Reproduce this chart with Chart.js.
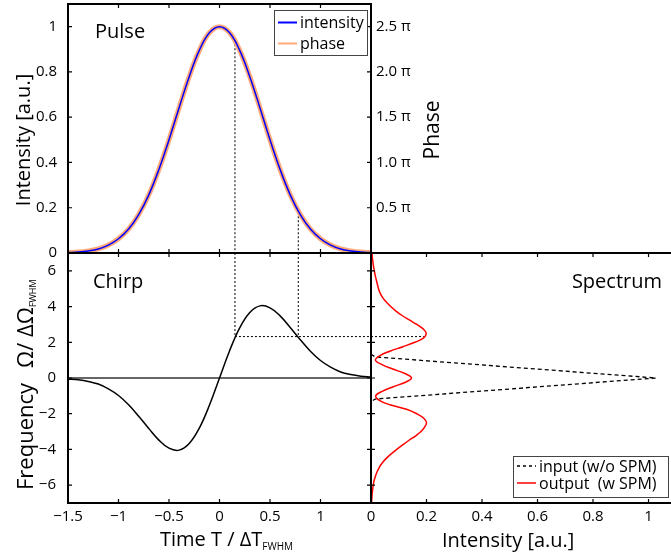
<!DOCTYPE html>
<html>
<head>
<meta charset="utf-8">
<title>SPM pulse, chirp and spectrum</title>
<script src="https://cdn.jsdelivr.net/npm/chart.js@4.4.0/dist/chart.umd.min.js"></script>
<style>
html, body { margin: 0; padding: 0; background: #fff; }
#wrap { position: relative; width: 671px; height: 556px; overflow: hidden; }
#wrap canvas { position: absolute; left: 0; top: 0; }
</style>
</head>
<body>
<div id="wrap">
  <canvas id="pulse" width="671" height="556"></canvas>
  <canvas id="chirp" width="671" height="556"></canvas>
  <canvas id="spectrum" width="671" height="556"></canvas>
</div>
<script>
// time samples, T / dT_FWHM
const timeT = [-1.5, -1.4, -1.3, -1.2, -1.1, -1.0, -0.9, -0.8, -0.7, -0.6, -0.5, -0.4, -0.3, -0.2, -0.1, 0,
               0.1, 0.2, 0.3, 0.4, 0.5, 0.6, 0.7, 0.8, 0.9, 1.0, 1.1, 1.2, 1.3, 1.4, 1.5];
const intensity = [0.002, 0.004, 0.009, 0.018, 0.035, 0.063, 0.106, 0.170, 0.257, 0.369, 0.500, 0.642, 0.779, 0.895, 0.973, 1.000,
                   0.973, 0.895, 0.779, 0.642, 0.500, 0.369, 0.257, 0.170, 0.106, 0.063, 0.035, 0.018, 0.009, 0.004, 0.002];
// phase in units of pi (right axis)
const phasePi = [0.005, 0.010, 0.023, 0.045, 0.088, 0.158, 0.265, 0.425, 0.643, 0.923, 1.250, 1.605, 1.948, 2.238, 2.433, 2.500,
                 2.433, 2.238, 1.948, 1.605, 1.250, 0.923, 0.643, 0.425, 0.265, 0.158, 0.088, 0.045, 0.023, 0.010, 0.005];
// instantaneous frequency, Omega / dOmega_FWHM
const chirp = [-0.05, -0.10, -0.19, -0.34, -0.61, -0.98, -1.50, -2.14, -2.83, -3.48, -3.93, -4.04, -3.67, -2.81, -1.53, 0,
               1.53, 2.81, 3.67, 4.04, 3.93, 3.48, 2.83, 2.14, 1.50, 0.98, 0.61, 0.34, 0.19, 0.10, 0.05];

// spectra (frequency on the vertical axis)
const omegaIn = [1.33, 1.18, 0, -1.18, -1.33];
const specIn = [0, 0.015, 1.027, 0.015, 0];
const omegaOut = [7, 6.75, 6.5, 6.25, 6, 5.75, 5.5, 5.25, 5, 4.75, 4.5, 4.25, 4, 3.75, 3.5, 3.25, 3, 2.75, 2.5, 2.25,
                  2, 1.75, 1.5, 1.25, 1, 0.75, 0.5, 0.25, 0, -0.25, -0.5, -0.75, -1, -1.25, -1.5, -1.75, -2, -2.25, -2.5,
                  -2.75, -3, -3.25, -3.5, -3.75, -4, -4.25, -4.5, -4.75, -5, -5.25, -5.5, -5.75, -6, -6.25, -6.5, -6.75, -7];
const specOut = [0.004, 0.005, 0.007, 0.009, 0.012, 0.015, 0.019, 0.023, 0.027, 0.033, 0.042, 0.055, 0.071, 0.090, 0.112, 0.138, 0.165, 0.188, 0.199, 0.190,
                 0.158, 0.115, 0.068, 0.032, 0.016, 0.040, 0.078, 0.122, 0.146, 0.122, 0.078, 0.040, 0.017, 0.030, 0.068, 0.128, 0.165, 0.190, 0.200,
                 0.193, 0.180, 0.160, 0.136, 0.114, 0.093, 0.073, 0.055, 0.041, 0.030, 0.022, 0.016, 0.011, 0.008, 0.006, 0.004, 0.003, 0.002];

// dotted guide lines
const markT = [0.153, 0.78];
const markI = [0.94, 0.18];
const markOmega = 2.32;
const markSpec = 0.19;

// ticks
const timeTicks = [-1.5, -1, -0.5, 0, 0.5, 1];
const intensityTicks = [0, 0.2, 0.4, 0.6, 0.8, 1];
const phaseTicks = [0.5, 1, 1.5, 2, 2.5];
const freqTicks = [-6, -4, -2, 0, 2, 4, 6];
const specTicks = [0, 0.2, 0.4, 0.6, 0.8, 1];

const FONT = "'Open Sans', sans-serif";
Chart.defaults.font.family = FONT;
Chart.defaults.font.size = 15;
Chart.defaults.color = '#000';

function pts(xs, ys) {
    return xs.map((x, i) => ({ x: x, y: ys[i] }));
}
function fmtNum(v) {
    return v < 0 ? '\u2212' + Math.abs(v) : String(v);
}

// linear axis with fixed ticks and a fixed size
function axis(min, max, ticks, o) {
    return {
        type: 'linear',
        min: min,
        max: max,
        display: o.display !== false,
        position: o.position,
        grid: { display: false, drawTicks: false },
        border: { display: false },
        ticks: { autoSkip: false, maxRotation: 0, padding: o.pad || 0, callback: o.fmt || fmtNum },
        afterBuildTicks: s => { s.ticks = ticks.map(v => ({ value: v })); },
        afterFit: s => {
            if (o.width != null) s.width = o.width;
            if (o.height != null) s.height = o.height;
            s.paddingTop = s.paddingBottom = s.paddingLeft = s.paddingRight = 0;
        }
    };
}

function baseOptions(padding, scales) {
    return {
        responsive: false,
        animation: false,
        devicePixelRatio: 1,
        layout: { padding: padding },
        plugins: { legend: { display: false }, tooltip: { enabled: false } },
        elements: { point: { radius: 0 } },
        scales: scales
    };
}

function dotted(data) {
    return { data: data, borderColor: '#000', borderWidth: 1, borderDash: [2, 2], tension: 0 };
}

// box with inward ticks
function framePlugin(id, sides) {
    return {
        id: id,
        afterDatasetsDraw(chart) {
            const ctx = chart.ctx, a = chart.chartArea;
            ctx.save();
            ctx.strokeStyle = '#000';
            sides.forEach(sd => {
                const sc = chart.scales[sd.scale];
                ctx.lineWidth = 2;
                ctx.beginPath();
                if (sd.side === 'left') { ctx.moveTo(a.left, a.top - 1); ctx.lineTo(a.left, a.bottom + 1); }
                if (sd.side === 'right') { ctx.moveTo(a.right, a.top - 1); ctx.lineTo(a.right, a.bottom + 1); }
                if (sd.side === 'top') { ctx.moveTo(a.left - 1, a.top); ctx.lineTo(a.right + 1, a.top); }
                if (sd.side === 'bottom') { ctx.moveTo(a.left - 1, a.bottom); ctx.lineTo(a.right + 1, a.bottom); }
                ctx.stroke();
                ctx.lineWidth = 1.2;
                ctx.beginPath();
                sd.ticks.forEach(v => {
                    const p = sc.getPixelForValue(v);
                    if (sd.side === 'left') { ctx.moveTo(a.left, p); ctx.lineTo(a.left + 4, p); }
                    if (sd.side === 'right') { ctx.moveTo(a.right, p); ctx.lineTo(a.right - 4, p); }
                    if (sd.side === 'top') { ctx.moveTo(p, a.top); ctx.lineTo(p, a.top + 4); }
                    if (sd.side === 'bottom') { ctx.moveTo(p, a.bottom); ctx.lineTo(p, a.bottom - 4); }
                });
                ctx.stroke();
            });
            ctx.restore();
        }
    };
}

// free text (panel names, axis titles with subscripts)
function textPlugin(id, items) {
    return {
        id: id,
        afterDraw(chart) {
            const ctx = chart.ctx;
            items.forEach(it => {
                ctx.save();
                ctx.translate(it.x, it.y);
                if (it.rot) ctx.rotate(-Math.PI / 2);
                ctx.fillStyle = '#000';
                ctx.textBaseline = 'alphabetic';
                ctx.textAlign = 'left';
                const widths = it.parts.map(p => {
                    ctx.font = p.size + 'px ' + FONT;
                    return ctx.measureText(p.t).width;
                });
                const total = widths.reduce((s, w) => s + w, 0);
                let x = 0;
                if (it.align === 'center') x = -total / 2;
                if (it.align === 'right') x = -total;
                it.parts.forEach((p, i) => {
                    ctx.font = p.size + 'px ' + FONT;
                    ctx.fillText(p.t, x, p.dy || 0);
                    x += widths[i];
                });
                ctx.restore();
            });
        }
    };
}

// boxed legend
function legendPlugin(id, box, entries) {
    return {
        id: id,
        afterDraw(chart) {
            const ctx = chart.ctx;
            ctx.save();
            ctx.fillStyle = '#fff';
            ctx.fillRect(box.x, box.y, box.w, box.h);
            ctx.strokeStyle = '#444';
            ctx.lineWidth = 1;
            ctx.strokeRect(box.x + 0.5, box.y + 0.5, box.w, box.h);
            entries.forEach((e, i) => {
                const y = box.y + box.first + i * box.step;
                ctx.strokeStyle = e.color;
                ctx.lineWidth = e.width;
                ctx.setLineDash(e.dash || []);
                ctx.beginPath();
                ctx.moveTo(box.x + 4, y);
                ctx.lineTo(box.x + 23, y);
                ctx.stroke();
                ctx.setLineDash([]);
                ctx.fillStyle = '#000';
                ctx.font = '16px ' + FONT;
                ctx.textBaseline = 'middle';
                ctx.fillText(e.label, box.x + 26, y + 1);
            });
            ctx.restore();
        }
    };
}

// ---- Pulse (top left) ----
new Chart(document.getElementById('pulse'), {
    type: 'line',
    data: {
        datasets: [
            { label: 'intensity', data: pts(timeT, intensity), yAxisID: 'y', borderColor: '#0000ff', borderWidth: 1.5, tension: 0.4 },
            { label: 'phase', data: pts(timeT, phasePi), yAxisID: 'y1', borderColor: '#ffaa78', borderWidth: 5, tension: 0.4 },
            dotted([{ x: markT[0], y: markI[0] }, { x: markT[0], y: 0 }]),
            dotted([{ x: markT[1], y: markI[1] }, { x: markT[1], y: 0 }])
        ]
    },
    options: baseOptions({ left: 0, top: 4, right: 220, bottom: 303 }, {
        x: axis(-1.5, 1.5, timeTicks, { display: false }),
        y: axis(0, 1.1, intensityTicks, { position: 'left', width: 68, pad: 11 }),
        y1: axis(0, 2.75, phaseTicks, { position: 'right', width: 80, pad: 5, fmt: v => v.toFixed(1) + ' \u03c0' })
    }),
    plugins: [
        framePlugin('pulseFrame', [
            { side: 'left', scale: 'y', ticks: intensityTicks },
            { side: 'right', scale: 'y1', ticks: phaseTicks },
            { side: 'top', scale: 'x', ticks: timeTicks },
            { side: 'bottom', scale: 'x', ticks: timeTicks }
        ]),
        textPlugin('pulseText', [
            { x: 95, y: 38, parts: [{ t: 'Pulse', size: 20 }] },
            { x: 30, y: 140, rot: true, align: 'center', parts: [{ t: 'Intensity [a.u.]', size: 20 }] },
            { x: 439, y: 130, rot: true, align: 'center', parts: [{ t: 'Phase', size: 21 }] }
        ]),
        legendPlugin('pulseLegend', { x: 274, y: 10, w: 93, h: 45, first: 12.5, step: 21 }, [
            { label: 'intensity', color: '#0000ff', width: 2 },
            { label: 'phase', color: '#ffaa78', width: 2 }
        ])
    ]
});

// ---- Chirp (bottom left) ----
new Chart(document.getElementById('chirp'), {
    type: 'line',
    data: {
        datasets: [
            { data: pts(timeT, chirp), borderColor: '#000', borderWidth: 1.5, tension: 0.4 },
            { data: [{ x: timeT[0], y: 0 }, { x: timeT[timeT.length - 1], y: 0 }], borderColor: '#333', borderWidth: 1.5 },
            dotted([{ x: markT[0], y: 7 }, { x: markT[0], y: markOmega }]),
            dotted([{ x: markT[1], y: 7 }, { x: markT[1], y: markOmega }]),
            dotted([{ x: markT[0], y: markOmega }, { x: 1.5, y: markOmega }])
        ]
    },
    options: baseOptions({ left: 0, top: 253, right: 300, bottom: 0 }, {
        x: axis(-1.5, 1.5, timeTicks, { position: 'bottom', height: 53, pad: 5 }),
        y: axis(-7, 7, freqTicks, { position: 'left', width: 68, pad: 12 })
    }),
    plugins: [
        framePlugin('chirpFrame', [
            { side: 'left', scale: 'y', ticks: freqTicks },
            { side: 'right', scale: 'y', ticks: freqTicks },
            { side: 'top', scale: 'x', ticks: timeTicks },
            { side: 'bottom', scale: 'x', ticks: timeTicks }
        ]),
        textPlugin('chirpText', [
            { x: 93, y: 288, parts: [{ t: 'Chirp', size: 20 }] },
            { x: 33, y: 490, rot: true, parts: [{ t: 'Frequency', size: 22 }] },
            { x: 33, y: 368, rot: true, parts: [{ t: '\u03a9/ \u0394\u03a9', size: 22 }, { t: 'FWHM', size: 9, dy: 3 }] },
            { x: 160, y: 546, parts: [{ t: 'Time T / \u0394T', size: 20 }, { t: 'FWHM', size: 10, dy: 4 }] }
        ])
    ]
});

// ---- Spectrum (bottom right) ----
new Chart(document.getElementById('spectrum'), {
    type: 'line',
    data: {
        datasets: [
            { data: pts(specOut, omegaOut), borderColor: '#ff0000', borderWidth: 1.5, tension: 0.4 },
            { data: pts(specIn, omegaIn), borderColor: '#000', borderWidth: 1.3, borderDash: [4, 3], tension: 0 },
            dotted([{ x: 0, y: markOmega }, { x: markSpec, y: markOmega }])
        ]
    },
    options: baseOptions({ left: 371, top: 253, right: 0, bottom: 0 }, {
        x: axis(0, 1.081, specTicks, { position: 'bottom', height: 53, pad: 5 }),
        y: axis(-7, 7, freqTicks, { display: false })
    }),
    plugins: [
        framePlugin('specFrame', [
            { side: 'left', scale: 'y', ticks: freqTicks },
            { side: 'top', scale: 'x', ticks: specTicks },
            { side: 'bottom', scale: 'x', ticks: specTicks }
        ]),
        textPlugin('specText', [
            { x: 662, y: 288, align: 'right', parts: [{ t: 'Spectrum', size: 20 }] },
            { x: 442, y: 547, parts: [{ t: 'Intensity [a.u.]', size: 20 }] }
        ]),
        legendPlugin('specLegend', { x: 513, y: 456, w: 155, h: 41, first: 10, step: 17 }, [
            { label: 'input (w/o SPM)', color: '#000', width: 1.3, dash: [3, 3] },
            { label: 'output  (w SPM)', color: '#ff0000', width: 1.5 }
        ])
    ]
});
</script>
</body>
</html>
